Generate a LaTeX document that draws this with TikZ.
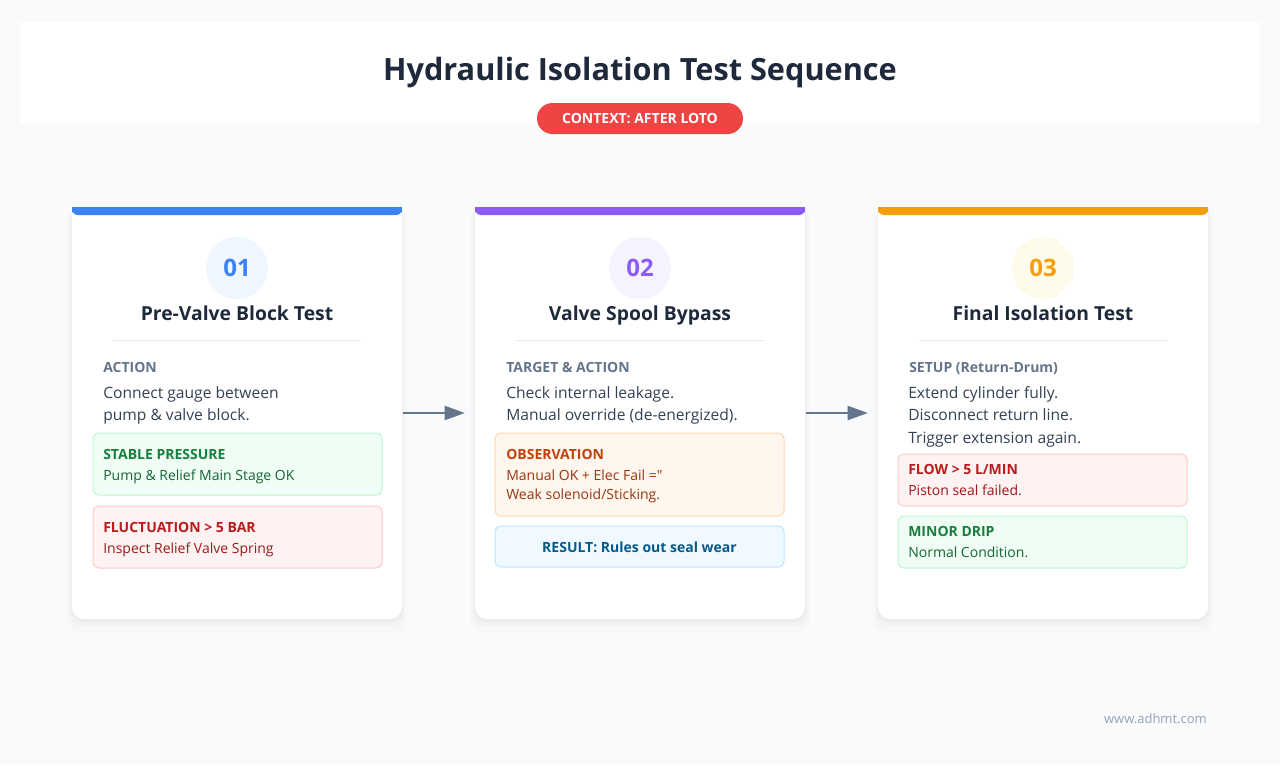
\documentclass[tikz,border=0pt]{standalone}
\usepackage{fontspec}
\setmainfont{Open Sans}
\usetikzlibrary{arrows.meta, positioning, calc, shadows}
\definecolor{pageBg}{HTML}{F8FAFC}
\definecolor{inkDark}{HTML}{1E293B}
\definecolor{inkBody}{HTML}{334155}
\definecolor{inkMuted}{HTML}{64748B}
\definecolor{lineGrey}{HTML}{E2E8F0}
\definecolor{alertRed}{HTML}{EF4444}
\definecolor{stepBlue}{HTML}{3B82F6}
\definecolor{stepPurple}{HTML}{8B5CF6}
\definecolor{stepAmber}{HTML}{F59E0B}
\definecolor{tintBlue}{HTML}{EFF6FF}
\definecolor{tintPurple}{HTML}{F5F3FF}
\definecolor{tintAmber}{HTML}{FFFBEB}
\definecolor{okFill}{HTML}{F0FDF4}
\definecolor{okLine}{HTML}{BBF7D0}
\definecolor{okHead}{HTML}{15803D}
\definecolor{okText}{HTML}{166534}
\definecolor{badFill}{HTML}{FEF2F2}
\definecolor{badLine}{HTML}{FECACA}
\definecolor{badHead}{HTML}{B91C1C}
\definecolor{badText}{HTML}{991B1B}
\definecolor{warnFill}{HTML}{FFF7ED}
\definecolor{warnLine}{HTML}{FED7AA}
\definecolor{warnHead}{HTML}{C2410C}
\definecolor{warnText}{HTML}{9A3412}
\definecolor{infoFill}{HTML}{F0F9FF}
\definecolor{infoLine}{HTML}{BAE6FD}
\definecolor{infoText}{HTML}{075985}
\definecolor{footGrey}{HTML}{94A3B8}
% name, left x, accent, tint, number, title, label
\newcommand{\DrawCard}[7]{
    \node[cardBox] (#1) at ({#2+165}, 413) {};
    \fill[white] (#2, 213) rectangle ({#2+330}, 226);
    \fill[#3, rounded corners=4.5pt] (#2, 207) rectangle ({#2+330}, 215);
    \fill[#3] (#2, 207) rectangle ({#2+330}, 211);
    \node[numDisc, fill=#4, text=#3] (#1Num) at ({#2+165}, 268) {#5};
    \node[cardTitle] (#1Title) at ({#2+165}, 320) {#6};
    \draw[lineGrey, line width=0.75pt] ({#2+41}, 340) -- ({#2+289}, 340);
    \node[fieldLabel] (#1Label) at ({#2+31}, 372) {#7};
}
\tikzset{
    % Cards
    cardBox/.style={rectangle, rounded corners=9pt, fill=white, inner sep=0pt,
        minimum width=247.5pt, minimum height=309pt,
        drop shadow={opacity=0.025, shadow xshift=0pt, shadow yshift=-5pt, shadow scale=1.03},
        drop shadow={opacity=0.035, shadow xshift=0pt, shadow yshift=-3pt, shadow scale=1.015},
        drop shadow={opacity=0.05, shadow xshift=0pt, shadow yshift=-1.5pt, shadow scale=1.005}},
    numDisc/.style={circle, minimum size=46.5pt, inner sep=0pt, font=\bfseries\fontsize{18}{20}\selectfont},
    cardTitle/.style={anchor=base, text=inkDark, inner sep=0pt, font=\bfseries\fontsize{14.5}{17}\selectfont},
    fieldLabel/.style={anchor=base west, text=inkMuted, inner sep=0pt, font=\bfseries\fontsize{10.5}{12}\selectfont},
    bodyLine/.style={anchor=base west, text=inkBody, inner sep=0pt, font=\fontsize{11.7}{14}\selectfont},
    % Note boxes
    noteBox/.style={rectangle, rounded corners=4.5pt, line width=0.75pt, inner sep=0pt, minimum width=216.75pt},
    noteHead/.style={anchor=base west, inner sep=0pt, font=\bfseries\fontsize{10.5}{12}\selectfont},
    noteText/.style={anchor=base west, inner sep=0pt, font=\fontsize{10.5}{12}\selectfont},
    % Header and connectors
    contextPill/.style={rectangle, rounded corners=11.6pt, fill=alertRed, text=white, inner sep=0pt,
        minimum width=154.5pt, minimum height=23.25pt, font=\bfseries\fontsize{10.5}{12}\selectfont},
    flowArrow/.style={-{Triangle[length=15pt, width=10.5pt]}, line width=1.5pt, draw=inkMuted, fill=inkMuted,
        shorten <=0.75pt, shorten >=7.5pt}
}
\begin{document}
\begin{tikzpicture}[x=0.75pt, y=-0.75pt]
    \useasboundingbox[fill=pageBg] (0,0) rectangle (1280,764);
    \fill[white] (20,22) rectangle (1260,123);
    \node[anchor=base, text=inkDark, inner sep=0pt, font=\bfseries\fontsize{23}{27}\selectfont] (mainTitle) at (640, 80) {Hydraulic Isolation Test Sequence};
    \node[contextPill] (context) at (640, 118.5) {CONTEXT: AFTER LOTO};

    % Step 01
    \DrawCard{card1}{72}{stepBlue}{tintBlue}{01}{Pre-Valve Block Test}{ACTION}
    \node[bodyLine] (act1a) at (103, 398) {Connect gauge between};
    \node[bodyLine] (act1b) at (103, 420) {pump \& valve block.};
    \node[noteBox, fill=okFill, draw=okLine, minimum height=46.5pt] (stableBox) at (237.5, 464) {};
    \node[noteHead, text=okHead] (stableHead) at (103, 459) {STABLE PRESSURE};
    \node[noteText, text=okText] (stableText) at (103, 480) {Pump \& Relief Main Stage OK};
    \node[noteBox, fill=badFill, draw=badLine, minimum height=46.5pt] (flucBox) at (237.5, 537) {};
    \node[noteHead, text=badHead] (flucHead) at (103, 532) {FLUCTUATION > 5 BAR};
    \node[noteText, text=badText] (flucText) at (103, 553) {Inspect Relief Valve Spring};

    % Step 02
    \DrawCard{card2}{475}{stepPurple}{tintPurple}{02}{Valve Spool Bypass}{TARGET \& ACTION}
    \node[bodyLine] (act2a) at (506, 398) {Check internal leakage.};
    \node[bodyLine] (act2b) at (506, 420) {Manual override (de-energized).};
    \node[noteBox, fill=warnFill, draw=warnLine, minimum height=62.25pt] (obsBox) at (639.5, 474.5) {};
    \node[noteHead, text=warnHead] (obsHead) at (506, 459) {OBSERVATION};
    \node[noteText, text=warnText] (obsTextA) at (506, 480) {Manual OK + Elec Fail =\textquotedbl};
    \node[noteText, text=warnText] (obsTextB) at (506, 499) {Weak solenoid/Sticking.};
    \node[noteBox, fill=infoFill, draw=infoLine, minimum height=30.75pt] (resultBox) at (639.5, 546.5) {};
    \node[noteHead, anchor=base, text=infoText] (resultText) at (639.5, 552) {RESULT: Rules out seal wear};

    % Step 03
    \DrawCard{card3}{878}{stepAmber}{tintAmber}{03}{Final Isolation Test}{SETUP (Return-Drum)}
    \node[bodyLine] (act3a) at (908, 398) {Extend cylinder fully.};
    \node[bodyLine] (act3b) at (908, 420) {Disconnect return line.};
    \node[bodyLine] (act3c) at (908, 443) {Trigger extension again.};
    \node[noteBox, fill=badFill, draw=badLine, minimum height=39pt] (flowBox) at (1042.5, 480) {};
    \node[noteHead, text=badHead] (flowHead) at (908, 474) {FLOW > 5 L/MIN};
    \node[noteText, text=badText] (flowText) at (908, 495) {Piston seal failed.};
    \node[noteBox, fill=okFill, draw=okLine, minimum height=39pt] (dripBox) at (1042.5, 542) {};
    \node[noteHead, text=okHead] (dripHead) at (908, 536) {MINOR DRIP};
    \node[noteText, text=okText] (dripText) at (908, 557) {Normal Condition.};

    \draw[flowArrow] (card1) -- (card2);
    \draw[flowArrow] (card2) -- (card3);

    \node[anchor=base east, text=footGrey, inner sep=0pt, font=\fontsize{9.75}{11}\selectfont] (footer) at (1207, 723) {www.adhmt.com};
\end{tikzpicture}
\end{document}
